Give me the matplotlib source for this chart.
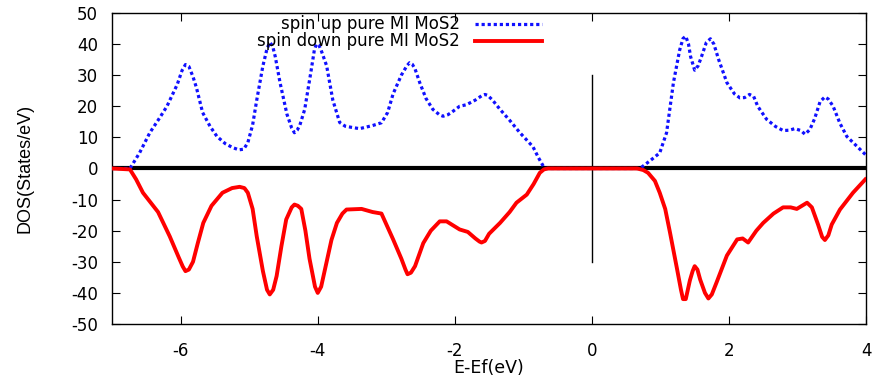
import matplotlib
matplotlib.use("Agg")
import matplotlib.pyplot as plt

plt.rcParams['font.family'] = ['DejaVu Sans']
plt.rcParams['axes.unicode_minus'] = False

up_x = [-7.0, -6.74, -6.6, -6.45, -6.3, -6.2, -6.05, -5.98, -5.93, -5.88, -5.82, -5.77, -5.68, -5.57,
        -5.47, -5.35, -5.24, -5.15, -5.08, -5.02, -4.95, -4.89, -4.8, -4.74, -4.7, -4.66, -4.62, -4.55,
        -4.45, -4.38, -4.34, -4.3, -4.26, -4.19, -4.1, -4.05, -4.02, -3.98, -3.95, -3.87, -3.78, -3.68,
        -3.6, -3.5, -3.39, -3.2, -3.07, -2.98, -2.9, -2.78, -2.7, -2.66, -2.62, -2.58, -2.51, -2.42,
        -2.32, -2.22, -2.17, -2.1, -2.05, -1.93, -1.83, -1.7, -1.6, -1.56, -1.52, -1.45, -1.34, -1.2,
        -1.05, -0.86, -0.78, -0.69, 0.0, 0.7, 0.85, 0.99, 1.09, 1.19, 1.28, 1.33, 1.37, 1.41, 1.44,
        1.5, 1.55, 1.6, 1.67, 1.73, 1.78, 1.85, 1.97, 2.08, 2.16, 2.23, 2.3, 2.36, 2.42, 2.55, 2.68,
        2.79, 2.88, 2.96, 3.05, 3.11, 3.18, 3.25, 3.33, 3.4, 3.45, 3.52, 3.62, 3.72, 3.85, 3.99]
up_y = [0, 0, 5, 11.5, 16.5, 20, 27, 31.5, 33.4, 32.8, 29.5, 26, 18, 13.5,
        10.3, 8, 6.7, 6.0, 6.2, 8.3, 14, 22, 33, 38.5, 40.5, 39.5, 36, 27.6,
        17.5, 13, 11.5, 12.3, 14, 19, 31, 38, 40, 39.5, 38, 33, 22, 14.8,
        13.6, 13.2, 12.8, 13.8, 14.7, 18, 24, 30, 33, 34, 33.5, 32, 27.5, 22.5,
        19, 17.2, 16.8, 17.3, 18, 20, 20.5, 22, 23.5, 23.8, 23.5, 22, 19, 15.5,
        11.5, 7, 3.5, 0, 0, 0, 2.5, 5, 11.5, 27.6, 38, 41.8, 42.5, 40, 36,
        31.6, 33, 36, 40.5, 41.7, 40, 35, 27.6, 24, 22.7, 22.8, 23.8, 23.2, 20, 15.8, 13.5,
        12.2, 12.3, 12.8, 12.2, 11, 12.5, 16, 21.5, 23, 22.3, 20, 14.5, 10.3, 7.5, 4.5]

down_x = [-7.0, -6.74, -6.65, -6.55, -6.33, -6.16, -6.03, -5.97, -5.93, -5.88, -5.82, -5.75, -5.67,
          -5.55, -5.39, -5.25, -5.14, -5.07, -5.02, -4.95, -4.89, -4.8, -4.74, -4.7, -4.65, -4.6,
          -4.53, -4.46, -4.38, -4.34, -4.29, -4.24, -4.18, -4.12, -4.04, -4.0, -3.95, -3.87, -3.8,
          -3.72, -3.64, -3.58, -3.36, -3.2, -3.07, -2.9, -2.78, -2.72, -2.69, -2.64, -2.58, -2.46,
          -2.35, -2.22, -2.12, -1.93, -1.81, -1.7, -1.64, -1.61, -1.56, -1.5, -1.34, -1.2, -1.1,
          -0.95, -0.85, -0.76, -0.7, -0.64, 0.0, 0.66, 0.75, 0.82, 0.92, 0.99, 1.07, 1.14, 1.24,
          1.3, 1.33, 1.37, 1.43, 1.47, 1.5, 1.54, 1.58, 1.65, 1.7, 1.75, 1.82, 1.97, 2.12, 2.2,
          2.28, 2.4, 2.5, 2.65, 2.79, 2.9, 2.99, 3.08, 3.14, 3.21, 3.3, 3.36, 3.4, 3.45, 3.5,
          3.62, 3.81, 3.99]
down_y = [0, -0.3, -3.5, -7.8, -14, -21.8, -28.5, -31.5, -33, -32.5, -30, -24, -17.5,
          -12, -7.8, -6.3, -5.9, -6.3, -7.8, -13, -21.8, -33, -39, -40.5, -39, -34.6,
          -25, -16.4, -12.5, -11.6, -12, -13, -20, -29, -38, -40, -38, -30, -23,
          -17.5, -14.5, -13.2, -13, -14, -14.5, -22.8, -29, -32.5, -34, -33.5, -31.4, -24,
          -20, -17, -17, -19.6, -20.4, -22.5, -23.5, -23.8, -23.3, -21, -17.5, -14, -11,
          -8.4, -5, -1.4, -0.3, 0, 0, 0, -0.5, -1.4, -4, -7.8, -13, -20.6, -32,
          -39, -42, -42, -36, -33, -31.4, -32.5, -35.7, -40, -41.8, -40.5, -36.6, -28, -22.8, -22.5,
          -23.8, -20, -17.5, -14.5, -12.5, -12.5, -13, -11.8, -11, -12.5, -18, -22, -23, -21.5, -18,
          -13.2, -7.8, -3.5]

zero_x = [-7.0, 4.0]
zero_y = [0, 0]
fermi_x = [0, 0]
fermi_y = [-30, 30]

labels = ["spin up pure MI MoS2", "spin down pure MI MoS2"]
xticks = [-6, -4, -2, 0, 2, 4]
yticks = [-50, -40, -30, -20, -10, 0, 10, 20, 30, 40, 50]

fig = plt.figure(figsize=(8.76, 3.77), dpi=100)
ax = fig.add_axes([0.128, 0.1406, 0.8606, 0.825])

ax.plot(zero_x, zero_y, color='black', lw=3, zorder=2, solid_capstyle='butt')
ax.plot(fermi_x, fermi_y, color='black', lw=1, zorder=2)
ax.plot(up_x, up_y, color='#1010ff', lw=2.3, linestyle=(0, (1, 0.9)), zorder=3)
ax.plot(down_x, down_y, color='#ff0000', lw=2.8, zorder=4, solid_joinstyle='round')

ax.set_xlim(-7, 4)
ax.set_ylim(-50, 50)
ax.set_xticks(xticks)
ax.set_yticks(yticks)
ax.tick_params(direction='in', length=6, width=0.8, top=True, right=True,
               labelsize=12)
ax.tick_params(axis='x', pad=13)
ax.tick_params(axis='y', pad=10)
for s in ax.spines.values():
    s.set_linewidth(1.0)

ax.set_xlabel("E-Ef(eV)", fontsize=12.5, va='center')
ax.xaxis.set_label_coords(0.5, -0.14)
ax.set_ylabel("DOS(States/eV)", fontsize=13, va='center',
              family=['Liberation Sans Narrow', 'Liberation Sans'])
ax.yaxis.set_label_coords(-0.1154, 0.5)

# legend (gnuplot style: right aligned text, sample to the right)
ax.text(0.4615, 0.963, labels[0], transform=ax.transAxes, ha='right', va='center', fontsize=12)
ax.text(0.4615, 0.910, labels[1], transform=ax.transAxes, ha='right', va='center', fontsize=12)
ax.plot([0.481, 0.570], [0.963, 0.963], transform=ax.transAxes, color='#1010ff', lw=2.3,
        linestyle=(0, (1, 0.9)))
ax.plot([0.481, 0.570], [0.910, 0.910], transform=ax.transAxes, color='#ff0000', lw=2.8)

fig.savefig("out.png", dpi=100)
